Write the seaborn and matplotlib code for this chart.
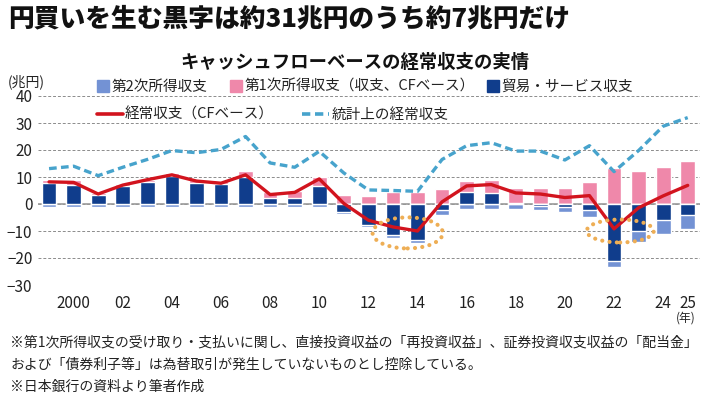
import pandas as pd
import matplotlib
matplotlib.use("Agg")
import matplotlib.pyplot as plt
from matplotlib.patches import Ellipse, Patch
from matplotlib.lines import Line2D
import seaborn as sns

# values, trillion yen
years = list(range(1999, 2026))
trade = [7.8, 7.2, 3.5, 6.6, 8.1, 10.3, 7.8, 7.4, 10.0, 2.2, 2.2, 6.6, -2.9, -7.8,
         -11.5, -13.3, -2.4, 4.4, 4.1, 0.4, -0.7, -1.0, -2.1, -21.2, -10.0, -6.1, -4.0]
primary_cf = [1.2, 1.8, 0.5, 0.9, 0.9, 1.2, 1.2, 1.2, 2.1, 2.3, 2.5, 3.3, 3.5, 3.1,
              4.4, 4.5, 5.4, 4.1, 4.9, 5.5, 6.0, 6.0, 8.3, 13.5, 12.2, 13.8, 16.0]
secondary = [-1.1, -1.1, -1.0, -1.0, -1.0, -1.0, -1.1, -1.2, -1.2, -1.2, -1.1, -1.0, -0.9, -0.9,
             -1.2, -1.2, -1.8, -1.8, -1.7, -2.0, -1.4, -2.1, -2.8, -2.2, -4.0, -5.0, -5.4]
current_cf = [8.2, 8.0, 3.7, 7.0, 9.0, 10.8, 8.5, 7.7, 10.8, 3.5, 4.3, 9.3, 0.2, -6.0,
              -8.5, -10.0, 0.8, 6.7, 7.2, 4.1, 3.7, 2.4, 3.1, -9.2, -1.4, 3.0, 6.9]
current_stat = [13.1, 14.0, 10.5, 13.6, 16.5, 19.8, 19.0, 20.2, 25.0, 15.2, 13.6, 19.5, 11.5, 5.2,
                5.0, 4.7, 16.5, 21.6, 22.7, 19.6, 19.6, 16.3, 21.6, 12.0, 19.8, 28.8, 32.0]

tick_labels = [str(y) if y == 2000 else (f"{y % 100:02d}" if (y % 2 == 0 or y == 2025) else "")
               for y in years]

NAVY = "#103d8c"
PINK = "#ef88aa"
LIGHT = "#7392d4"
RED = "#d2141e"
CYAN = "#47a3cc"
ORANGE = "#eeae55"
GRID = "#8c8c8c"

df = pd.DataFrame({"year": years, "trade": trade, "primary": primary_cf,
                   "secondary": secondary, "cf": current_cf, "stat": current_stat})
# layered bars: pink sits on top of positive trade, light blue below negative trade
df["pink_top"] = df["trade"].clip(lower=0) + df["primary"]
df["blue_bottom"] = df["trade"].clip(upper=0) + df["secondary"]

sns.set_style("white")
plt.rcParams["font.family"] = ["Noto Sans CJK JP", "DejaVu Sans"]

fig = plt.figure(figsize=(7.1, 4.0), dpi=100)
ax = fig.add_axes([38 / 710, 1 - 285 / 400, (700 - 38) / 710, (285 - 96) / 400])

ax.axhline(0, color="#999999", lw=1.2, zorder=1)
for col, c in [("pink_top", PINK), ("blue_bottom", LIGHT), ("trade", NAVY)]:
    sns.barplot(data=df, x="year", y=col, native_scale=True, orient="x", color=c,
                saturation=1, width=0.6, errorbar=None, ax=ax, zorder=2)

sns.lineplot(data=df, x="year", y="stat", color=CYAN, linewidth=2.4,
             linestyle=(0, (2.3, 1.3)), ax=ax, zorder=3)
sns.lineplot(data=df, x="year", y="cf", color=RED, linewidth=2.4, ax=ax, zorder=4)

# dotted circles highlighting the deficits
for cx, cy, w, h in [(2013.6, -10.7, 2.86, 11.5), (2022.25, -10.0, 2.73, 8.5)]:
    e = Ellipse((cx, cy), w, h, fill=False, edgecolor=ORANGE, lw=3,
                linestyle=(0, (0.01, 1.75)), zorder=5)
    e.set_capstyle("round")
    ax.add_patch(e)

ax.set_xlim(1998.55, 2025.5)
ax.set_ylim(-30, 40)
ax.set_yticks(range(-30, 41, 10))
ax.set_xticks(years)
ax.set_xticklabels(tick_labels)
ax.set_xlabel("")
ax.set_ylabel("")
ax.yaxis.grid(True, color=GRID, lw=0.7, linestyle=(0, (3, 2)))
ax.xaxis.grid(False)
ax.set_axisbelow(True)
for s in ax.spines.values():
    s.set_visible(False)
ax.tick_params(axis="y", length=0, pad=4, labelsize=11, labelcolor="#222222")
ax.tick_params(axis="x", length=4, width=0.8, color="#999999", pad=3,
               labelsize=11, labelcolor="#222222")

fig.text(0.012, 1 - 18.5 / 400, "円買いを生む黒字は約31兆円のうち約7兆円だけ",
         fontsize=18.5, fontweight="heavy", va="center", ha="left", color="#111111")
fig.text(355 / 710, 1 - 62 / 400, "キャッシュフローベースの経常収支の実情",
         fontsize=13.2, fontweight="bold", va="center", ha="center", color="#111111")
fig.text(8 / 710, 1 - 82 / 400, "(兆円)", fontsize=10, va="center", ha="left", color="#222222")
fig.text(686 / 710, 1 - 318 / 400, "(年)", fontsize=8.5, va="center", ha="center", color="#222222")


def legend_item(handle, label, x, y, hl, hh=0.7):
    leg = fig.legend([handle], [label], loc="center left",
                     bbox_to_anchor=(x / 710, 1 - y / 400), frameon=False,
                     fontsize=10.5, handlelength=hl, handleheight=hh,
                     handletextpad=0.15, borderpad=0, borderaxespad=0)
    for t in leg.get_texts():
        t.set_color("#222222")


legend_item(Patch(color=LIGHT), "第2次所得収支", 97, 87, 0.85, 0.85)
legend_item(Patch(color=PINK), "第1次所得収支（収支、CFベース）", 230, 87, 0.85, 0.85)
legend_item(Patch(color=NAVY), "貿易・サービス収支", 487, 87, 0.85, 0.85)
legend_item(Line2D([], [], color=RED, lw=2.6), "経常収支（CFベース）", 97, 115, 1.75)
legend_item(Line2D([], [], color=CYAN, lw=2.6, linestyle=(0, (2.3, 1.3))),
            "統計上の経常収支", 302, 115, 1.85)

notes = ["※第1次所得収支の受け取り・支払いに関し、直接投資収益の「再投資収益」、証券投資収支収益の「配当金」",
         "および「債券利子等」は為替取引が発生していないものとし控除している。",
         "※日本銀行の資料より筆者作成"]
for line, yy in zip(notes, [342, 365, 387]):
    fig.text(10 / 710, 1 - yy / 400, line, fontsize=10, va="center", ha="left", color="#222222")

fig.savefig("out.png", dpi=100)
